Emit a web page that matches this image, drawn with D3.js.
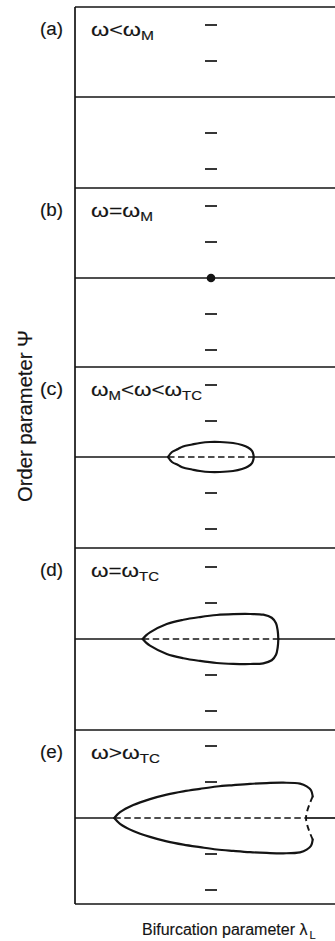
<!DOCTYPE html>
<html><head><meta charset="utf-8">
<script src="https://cdn.jsdelivr.net/npm/d3@7"></script>
<style>body{margin:0;background:#fff}svg{display:block}</style>
</head><body><svg id="chart" width="335" height="941"></svg>
<script>
// ---------------- data ----------------
const panelLetters = ["(a)", "(b)", "(c)", "(d)", "(e)"];
// condition labels: [text, isSubscript]
const conditionLabels = [
  [["ω<ω", false], ["M", true]],
  [["ω=ω", false], ["M", true]],
  [["ω", false], ["M", true], ["<ω<ω", false], ["TC", true]],
  [["ω=ω", false], ["TC", true]],
  [["ω>ω", false], ["TC", true]]
];
const psiTicks = [-2, -1, 1, 2];
const tickLambda = 0;
// panel (b): marginal point
const markPointB = [0, 0];
// upper stable branches (λ, Ψ); lower branch is the mirror image Ψ -> -Ψ
const branchC = [[-0.632,0],[-0.574,0.139],[-0.485,0.222],[-0.412,0.292],[-0.279,0.347],[-0.162,0.389],[-0.015,0.417],[0.132,0.417],[0.324,0.389],[0.456,0.333],[0.544,0.264],[0.603,0.167],[0.625,0.056],[0.627,0]];
const branchD = [[-1.004,0],[-0.955,0.1],[-0.897,0.185],[-0.651,0.417],[-0.407,0.535],[-0.162,0.61],[0.084,0.667],[0.328,0.69],[0.574,0.694],[0.769,0.675],[0.893,0.59],[0.956,0.44],[0.981,0.23],[0.99,0]];
const branchE = [[-1.422,0],[-1.338,0.16],[-1.143,0.36],[-0.897,0.525],[-0.651,0.65],[-0.407,0.74],[-0.162,0.81],[0.084,0.875],[0.328,0.915],[0.574,0.95],[0.819,0.97],[1.063,0.98],[1.309,0.955],[1.407,0.88],[1.471,0.77],[1.496,0.6]];
// unstable end segment of panel (e)
const unstableE = [[1.496,0.6],[1.456,0.42],[1.416,0.2],[1.397,0]];
const panelBranches = [null, null, branchC, branchD, branchE];
const panelUnstableEnds = [null, null, null, null, unstableE];

// ---------------- layout ----------------
const frameLeft = 75, frameRight = 335;
const panelTops = [7, 188, 367, 548, 730];
const frameBottom = 904;
const panelMids = [97, 278, 457, 639, 818];
const halfRange = 90; // px for 2.5 units
const ink = "#141414";
const font = "'Liberation Sans', Arial, Helvetica, sans-serif";
const condWidths = [63, 62, 111, 68, 69];
const textStroke = 0.15;

const svg = d3.select("#chart");
const x = d3.scaleLinear().domain([-2, 1.8235]).range([frameLeft, frameRight]);

function inkText(sel) {
  return sel.attr("fill", ink).attr("stroke", ink).attr("stroke-width", textStroke)
    .attr("font-family", font);
}

// frame
svg.append("line").attr("x1", frameLeft).attr("x2", frameLeft)
  .attr("y1", panelTops[0]).attr("y2", frameBottom)
  .attr("stroke", ink).attr("stroke-width", 1.7);
[...panelTops, frameBottom].forEach(yy => {
  svg.append("line").attr("x1", frameLeft).attr("x2", frameRight)
    .attr("y1", yy).attr("y2", yy).attr("stroke", ink).attr("stroke-width", 1.7);
});

panelLetters.forEach((letter, i) => {
  const g = svg.append("g");
  const y = d3.scaleLinear().domain([-2.5, 2.5]).range([panelMids[i] + halfRange, panelMids[i] - halfRange]);
  const top = panelTops[i];

  // panel letter
  inkText(g.append("text")).attr("x", 40).attr("y", top + 28)
    .attr("font-size", 17.5).attr("textLength", 23).attr("lengthAdjust", "spacingAndGlyphs")
    .text(letter);

  // condition label
  const t = inkText(g.append("text")).attr("x", 91).attr("y", top + 29)
    .attr("font-size", 18)
    .attr("textLength", condWidths[i]).attr("lengthAdjust", "spacingAndGlyphs");
  let shifted = false;
  conditionLabels[i].forEach(([s, sub]) => {
    const ts = t.append("tspan").text(s);
    if (sub) { ts.attr("font-size", 12).attr("dy", 4); shifted = true; }
    else if (shifted) { ts.attr("dy", -4); shifted = false; }
  });

  // axis ticks (Ψ)
  psiTicks.forEach(v => {
    g.append("line").attr("x1", x(tickLambda) - 6).attr("x2", x(tickLambda) + 6)
      .attr("y1", y(v)).attr("y2", y(v)).attr("stroke", ink).attr("stroke-width", 1.7);
  });

  const line = d3.line().x(d => x(d[0])).y(d => y(d[1])).curve(d3.curveCatmullRom.alpha(0.5));
  const br = panelBranches[i];
  const un = panelUnstableEnds[i];
  const dom = x.domain();

  if (!br) {
    g.append("line").attr("x1", x(dom[0])).attr("x2", x(dom[1]))
      .attr("y1", y(0)).attr("y2", y(0)).attr("stroke", ink).attr("stroke-width", 1.7);
  } else {
    const tip = br[0][0];
    const endL = un ? un[un.length - 1][0] : br[br.length - 1][0];
    g.append("line").attr("x1", x(dom[0])).attr("x2", x(tip))
      .attr("y1", y(0)).attr("y2", y(0)).attr("stroke", ink).attr("stroke-width", 1.7);
    g.append("line").attr("x1", x(endL)).attr("x2", x(dom[1]))
      .attr("y1", y(0)).attr("y2", y(0)).attr("stroke", ink).attr("stroke-width", 1.7);
    g.append("line").attr("x1", x(tip)).attr("x2", x(endL))
      .attr("y1", y(0)).attr("y2", y(0)).attr("stroke", ink).attr("stroke-width", 1.7)
      .attr("stroke-dasharray", "6.5,3.5");
    [1, -1].forEach(s => {
      g.append("path").attr("d", line(br.map(d => [d[0], s * d[1]])))
        .attr("fill", "none").attr("stroke", ink).attr("stroke-width", 2.2)
        .attr("stroke-linejoin", "round").attr("stroke-linecap", "round");
    });
    if (un) {
      const full = un.concat(un.slice(0, -1).reverse().map(d => [d[0], -d[1]]));
      const p = g.append("path").attr("d", line(full))
        .attr("fill", "none").attr("stroke", ink).attr("stroke-width", 1.9)
        .attr("stroke-dasharray", "6,4");
      const L = p.node().getTotalLength();
      p.attr("stroke-dashoffset", (((3 - L / 2) % 10) + 10) % 10);
    }
  }

  if (i === 1) {
    g.append("circle").attr("cx", x(markPointB[0])).attr("cy", y(markPointB[1]))
      .attr("r", 4.3).attr("fill", ink);
  }
});

// axis titles
inkText(svg.append("text"))
  .attr("transform", "translate(32,416) rotate(-90)")
  .attr("text-anchor", "middle").attr("font-size", 19.5)
  .attr("textLength", 172).attr("lengthAdjust", "spacingAndGlyphs")
  .text("Order parameter Ψ");

const xt = inkText(svg.append("text")).attr("x", 142).attr("y", 935)
  .attr("font-size", 16);
xt.append("tspan").text("Bifurcation parameter λ");
xt.append("tspan").attr("font-size", 11).attr("dx", 2).attr("dy", 4).text("L");
</script></body></html>
